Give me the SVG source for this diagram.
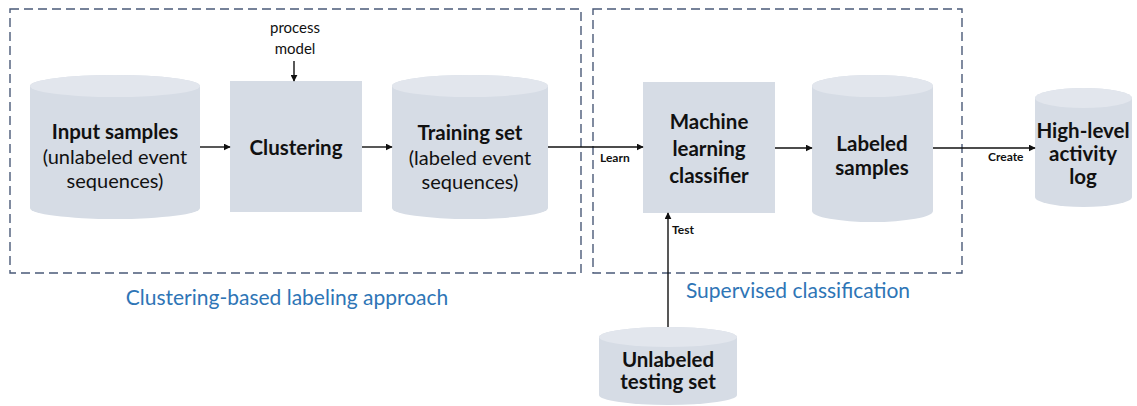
<svg xmlns="http://www.w3.org/2000/svg" width="1137" height="406" viewBox="0 0 1137 406">
<style>
.bg{fill:#ffffff}
.grp{fill:none;stroke:#4a5a78;stroke-width:1.4;stroke-dasharray:9 5}
.body{fill:#d6dce5}
.top{fill:#e2e6ed}
.box{fill:#d6dce5}
text{font-family:Lato,"Open Sans",sans-serif;fill:#111;text-anchor:middle}
.b{font-weight:bold;font-size:20.5px}
.r{font-size:20px}
.sm{font-size:15px}
.lbl{font-size:12px;font-weight:bold;text-anchor:start}
.cap{font-size:21px;fill:#2e75b6}
.edge{stroke:#111;stroke-width:1.4;fill:none;marker-end:url(#ah)}
</style>
<defs>
<marker id="ah" viewBox="0 0 10 10" refX="9" refY="5" markerWidth="7" markerHeight="7" orient="auto" markerUnits="userSpaceOnUse">
<path d="M0,0 L10,5 L0,10 z" fill="#111"/>
</marker>
</defs>
<rect class="bg" width="1137" height="406"/>
<g id="group-clustering">
<rect class="grp" x="10" y="9" width="571" height="264"/>
<text class="cap" x="287" y="305">Clustering-based labeling approach</text>
</g>
<g id="group-supervised">
<rect class="grp" x="593" y="9" width="369" height="264"/>
<text class="cap" x="798" y="298">Supervised classification</text>
</g>
<g id="input-samples">
<path class="body" d="M30,86 A85,11 0 0 1 200,86 V208 A85,11 0 0 1 30,208 Z"/>
<ellipse class="top" cx="115" cy="86" rx="85" ry="11"/>
<text class="b" x="115" y="139">Input samples</text>
<text class="r" x="115" y="164">(unlabeled event</text>
<text class="r" x="115" y="188">sequences)</text>
</g>
<g id="process-model">
<text class="sm" x="295" y="33">process</text>
<text class="sm" x="295" y="54">model</text>
</g>
<g id="clustering">
<rect class="box" x="230" y="81" width="132" height="131"/>
<text class="b" x="296" y="155">Clustering</text>
</g>
<g id="training-set">
<path class="body" d="M392,86 A78,11 0 0 1 548,86 V208 A78,11 0 0 1 392,208 Z"/>
<ellipse class="top" cx="470" cy="86" rx="78" ry="11"/>
<text class="b" x="470" y="140">Training set</text>
<text class="r" x="470" y="165">(labeled event</text>
<text class="r" x="470" y="189">sequences)</text>
</g>
<g id="ml-classifier">
<rect class="box" x="643" y="82" width="132" height="131"/>
<text class="b" x="709" y="129">Machine</text>
<text class="b" x="709" y="156">learning</text>
<text class="b" x="709" y="183">classifier</text>
</g>
<g id="labeled-samples">
<path class="body" d="M812,86 A60.5,11 0 0 1 933,86 V211 A60.5,11 0 0 1 812,211 Z"/>
<ellipse class="top" cx="872.5" cy="86" rx="60.5" ry="11"/>
<text class="b" x="872" y="151">Labeled</text>
<text class="b" x="872" y="175">samples</text>
</g>
<g id="high-level-log">
<path class="body" d="M1035,98 A48.5,10 0 0 1 1132,98 V197 A48.5,10 0 0 1 1035,197 Z"/>
<ellipse class="top" cx="1083.5" cy="98" rx="48.5" ry="10"/>
<text class="b" x="1083" y="138">High-level</text>
<text class="b" x="1083" y="161">activity</text>
<text class="b" x="1083" y="184">log</text>
</g>
<g id="unlabeled-testing">
<path class="body" d="M599,337 A69,10 0 0 1 737,337 V395 A69,10 0 0 1 599,395 Z"/>
<ellipse class="top" cx="668" cy="337" rx="69" ry="10"/>
<text class="b" x="668" y="367">Unlabeled</text>
<text class="b" x="668" y="389">testing set</text>
</g>
<g id="connectors">
<line class="edge" x1="294" y1="61" x2="294" y2="81"/>
<line class="edge" x1="200" y1="147" x2="230" y2="147"/>
<line class="edge" x1="362" y1="147" x2="392" y2="147"/>
<line class="edge" x1="548" y1="147" x2="643" y2="147"/>
<line class="edge" x1="775" y1="148" x2="812" y2="148"/>
<line class="edge" x1="933" y1="148" x2="1035" y2="148"/>
<line class="edge" x1="668" y1="327" x2="668" y2="213"/>
<text class="lbl" x="600" y="162">Learn</text>
<text class="lbl" x="988" y="161">Create</text>
<text class="lbl" x="672" y="234">Test</text>
</g>
</svg>
